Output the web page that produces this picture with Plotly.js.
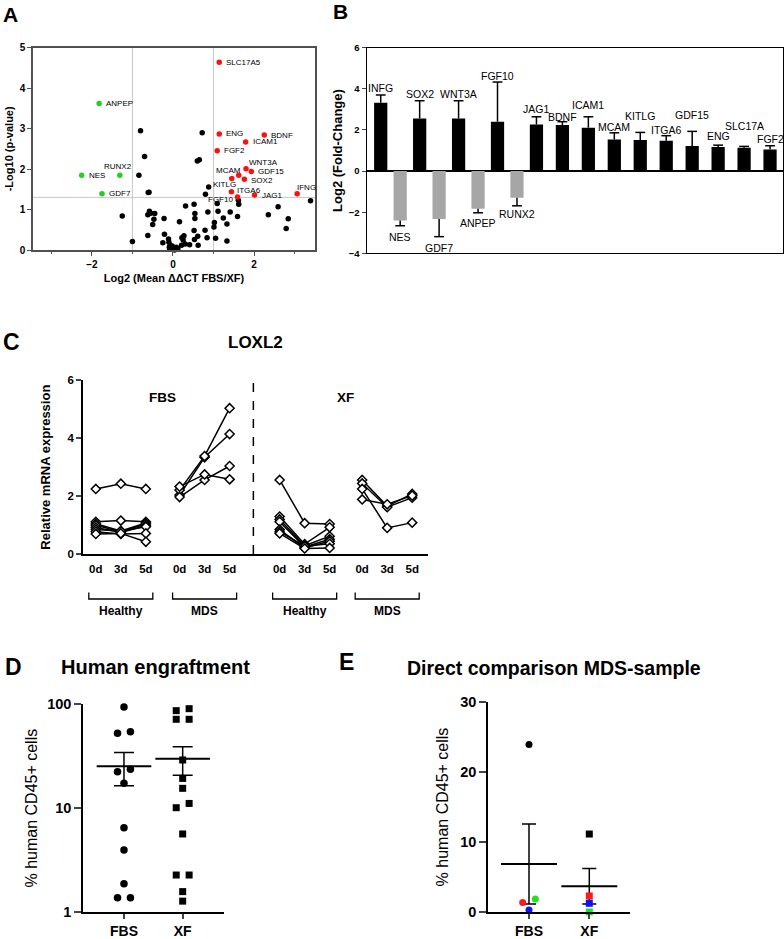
<!DOCTYPE html>
<html><head><meta charset="utf-8">
<script src="https://cdn.plot.ly/plotly-3.0.1.min.js"></script>
<style>html,body{margin:0;padding:0;background:#fff;}#chart{width:784px;height:939px;}</style>
</head><body><div id="chart"></div>
<script>
// ================= DATA =================
// Panel A – volcano plot
const volcanoUpGenes = ['SLC17A5','ENG','BDNF','ICAM1','FGF2','WNT3A','GDF15','MCAM','SOX2','KITLG','ITGA6','FGF10','JAG1','IFNG'];
const volcanoUpX = [1.14,1.14,2.25,1.79,1.09,1.80,1.93,1.62,1.76,1.45,1.44,1.59,2.01,3.06];
const volcanoUpY = [4.64,2.87,2.84,2.67,2.45,2.01,1.94,1.85,1.75,1.77,1.44,1.31,1.36,1.39];
const volcanoDownGenes = ['ANPEP','NES','RUNX2','GDF7'];
const volcanoDownX = [-1.82,-2.25,-1.31,-1.75];
const volcanoDownY = [3.62,1.85,1.85,1.39];
const volcanoOtherX = [-0.80,0.72,-0.70,0.60,0.65,-0.84,-0.59,-0.61,0.88,0.80,1.09,1.61,1.62,3.39,-1.25,-0.58,-0.55,-0.45,-0.62,-0.50,-0.47,-0.22,0.31,0.52,0.54,0.54,0.86,1.11,1.24,1.33,1.41,1.59,1.02,1.01,0.79,0.52,0.16,2.35,2.59,2.84,2.79,-0.62,-1.00,-0.21,-0.25,-0.11,-0.10,-0.07,-0.09,-0.03,0.02,0.08,0.12,-0.08,0.21,0.25,0.27,0.22,0.41,0.62,0.53,0.61,0.84,1.05,1.33,0.30,0.04,-0.02];
const volcanoOtherY = [2.95,2.90,2.31,2.20,2.23,1.85,1.43,1.42,1.56,1.38,1.15,1.23,1.13,1.22,0.84,0.96,0.91,0.90,0.87,0.63,0.76,0.78,1.09,1.13,0.90,0.78,0.94,0.96,0.79,0.64,0.94,0.83,0.68,0.57,0.49,0.48,0.70,0.87,1.07,0.77,0.53,0.36,0.21,0.39,0.18,0.27,0.19,0.12,0.07,0.04,0.02,0.07,0.04,0.03,0.12,0.25,0.35,0.30,0.13,0.12,0.26,0.34,0.30,0.29,0.22,0.15,0.00,0.10];
const pValueCutoff = 1.3;
const foldCutoffs = [-1, 1];

// Panel B – fold change bars
const fcGenes = ['INFG','NES','SOX2','GDF7','WNT3A','ANPEP','FGF10','RUNX2','JAG1','BDNF','ICAM1','MCAM','KITLG','ITGA6','GDF15','ENG','SLC17A','FGF2'];
const fcLog2 = [3.32,-2.41,2.56,-2.33,2.56,-1.83,2.40,-1.30,2.27,2.24,2.11,1.54,1.51,1.47,1.22,1.17,1.13,1.05];
const fcSem  = [0.38,0.25,0.86,0.86,0.86,0.20,1.93,0.39,0.37,0.16,0.53,0.32,0.37,0.25,0.71,0.09,0.07,0.18];

// Panel C – LOXL2 time course (one row per donor: 0d, 3d, 5d)
const timepoints = ['0d','3d','5d'];
const mediumLabels = ['FBS','XF'];
const cohortLabels = ['Healthy','MDS','Healthy','MDS'];
const loxl2FbsHealthy = [[2.25,2.43,2.25],[1.12,1.16,1.12],[1.05,0.80,1.08],[1.00,0.78,1.04],[0.92,0.75,0.98],[0.85,0.80,0.95],[0.78,0.70,0.72],[0.70,0.72,0.43]];
const loxl2FbsMds = [[2.04,3.34,4.14],[2.21,3.38,5.03],[1.97,2.56,3.04],[2.33,2.75,2.58]];
const loxl2XfHealthy = [[2.56,1.07,1.04],[1.30,0.35,0.93],[1.20,0.30,0.62],[1.12,0.25,0.52],[0.85,0.22,0.45],[0.78,0.28,0.36],[0.72,0.20,0.22]];
const loxl2XfMds = [[2.56,1.66,2.08],[2.44,1.62,1.95],[2.25,0.91,1.09],[1.89,1.72,2.02]];

// Panel D – human engraftment (% CD45+)
const engraftGroups = ['FBS','XF'];
const engraftFbs = [93.6,52.3,54.2,22.4,23.6,17.3,6.5,3.97,1.88,1.38,1.38];
const engraftXf  = [86.3,90.2,71.3,71.3,29.0,19.3,15.5,10.1,11.1,5.65,2.28,2.28,1.58,1.28];

// Panel E – direct comparison MDS sample
const mdsSamples = ['MDS-1','MDS-2','MDS-3','MDS-4'];
const mdsFbs = [23.9,1.38,1.90,0.33];
const mdsXf  = [11.15,2.33,0.05,1.28];

// ================= STYLE / LAYOUT HELPERS =================
const FONT = 'Liberation Sans, Arial, Helvetica, sans-serif';
const W = 784, H = 939;
const px = x => x / W;
const py = y => 1 - y / H;
const RED = '#ff1010', GREEN = '#22d022', GREY = '#a6a6a6';
const sampleColors = ['#000000', '#ff1a1a', '#22e022', '#1010ff'];

const mean = a => a.reduce((s, v) => s + v, 0) / a.length;
const sem = a => { const m = mean(a); return Math.sqrt(a.reduce((s, v) => s + (v - m) ** 2, 0) / (a.length - 1)) / Math.sqrt(a.length); };

// side-by-side placement of overlapping points (lower value left)
function pairOffsets(vals, close, d) {
  const idx = vals.map((v, i) => i).sort((a, b) => vals[b] - vals[a]);
  const off = new Array(vals.length).fill(0);
  let k = 0;
  while (k < idx.length) {
    if (k + 1 < idx.length && close(vals[idx[k]], vals[idx[k + 1]])) {
      const a = idx[k], b = idx[k + 1];
      const lo = vals[a] < vals[b] ? a : b, hi = lo === a ? b : a;
      off[lo] = -d; off[hi] = d; k += 2;
    } else k++;
  }
  return off;
}

const traces = [];
const annotations = [];
const shapes = [];

// ---------- Panel A ----------
traces.push({type:'scatter', mode:'markers', x:volcanoOtherX, y:volcanoOtherY, xaxis:'x', yaxis:'y',
  marker:{color:'black', size:5.5}, cliponaxis:false, hoverinfo:'x+y'});
traces.push({type:'scatter', mode:'markers', x:volcanoUpX, y:volcanoUpY, text:volcanoUpGenes, xaxis:'x', yaxis:'y',
  marker:{color:RED, size:5.5}, cliponaxis:false, hoverinfo:'text+x+y'});
traces.push({type:'scatter', mode:'markers', x:volcanoDownX, y:volcanoDownY, text:volcanoDownGenes, xaxis:'x', yaxis:'y',
  marker:{color:GREEN, size:5.5}, cliponaxis:false, hoverinfo:'text+x+y'});
foldCutoffs.forEach(c => shapes.push({type:'line', xref:'x', yref:'y', x0:c, x1:c, y0:0, y1:5, layer:'below', line:{color:'#c8c8c8', width:1}}));
shapes.push({type:'line', xref:'x', yref:'y', x0:-3.45, x1:3.5, y0:pValueCutoff, y1:pValueCutoff, layer:'below', line:{color:'#c8c8c8', width:1}});
// label placement: [xanchor, xshift, yshift]
const volcanoLabelPlace = {
  SLC17A5:['left',5,0], ENG:['left',5,0], BDNF:['left',5,0], ICAM1:['left',5,0], FGF2:['left',5,0],
  WNT3A:['left',1,6], GDF15:['left',5,0], MCAM:['right',4,5], SOX2:['left',5,-1], KITLG:['right',6,-6],
  ITGA6:['left',4,1], FGF10:['right',-3,-2], JAG1:['left',5,-1], IFNG:['left',-2,6],
  ANPEP:['left',5,0], NES:['left',5,0], RUNX2:['center',-2,9], GDF7:['left',5,0]
};
function volcanoLabel(g, x, y) {
  const p = volcanoLabelPlace[g];
  annotations.push({xref:'x', yref:'y', x:x, y:y, text:g, showarrow:false, xanchor:p[0], yanchor:'middle',
    xshift:p[1], yshift:p[2], font:{size:8, color:'black', family:FONT}});
}
volcanoUpGenes.forEach((g, i) => volcanoLabel(g, volcanoUpX[i], volcanoUpY[i]));
volcanoDownGenes.forEach((g, i) => volcanoLabel(g, volcanoDownX[i], volcanoDownY[i]));

// ---------- Panel B ----------
const barPos = [];
fcGenes.forEach((g, i) => barPos.push(i === 0 ? 0 : barPos[i - 1] + (i <= 8 ? 0.75 : 1.0)));
traces.push({type:'bar', x:barPos, y:fcLog2, text:fcGenes, xaxis:'x2', yaxis:'y2', width:0.51,
  marker:{color:fcLog2.map(v => v >= 0 ? 'black' : GREY), line:{width:0}}, textposition:'none', hoverinfo:'text+y'});
const stemX = [], stemY = [], capX = [], capY = [];
fcLog2.forEach((v, i) => {
  const end = v >= 0 ? v + fcSem[i] : v - fcSem[i];
  stemX.push(barPos[i], barPos[i], null); stemY.push(v, end, null);
  capX.push(barPos[i]); capY.push(end);
});
traces.push({type:'scatter', mode:'lines', x:stemX, y:stemY, xaxis:'x2', yaxis:'y2', line:{color:'black', width:1.5}, hoverinfo:'skip', cliponaxis:false});
traces.push({type:'scatter', mode:'markers', x:capX, y:capY, xaxis:'x2', yaxis:'y2', marker:{symbol:'line-ew', size:7, line:{color:'black', width:1.5}}, hoverinfo:'skip', cliponaxis:false});
const fcLabelGap = [7,11,7,11,7,10,6,8,8,5,12,6,16,6,16,9,20,7];
fcGenes.forEach((g, i) => {
  const up = fcLog2[i] >= 0;
  annotations.push({xref:'x2', yref:'y2', x:barPos[i], y:capY[i], text:g, showarrow:false, xanchor:'center', yanchor:'middle',
    yshift:(up ? 1 : -1) * fcLabelGap[i], font:{size:10.5, color:'black', family:FONT}});
});

// ---------- Panel C ----------
const groupStart = [0, 3.35, 7.35, 10.65];
const cGroups = [loxl2FbsHealthy, loxl2FbsMds, loxl2XfHealthy, loxl2XfMds];
const cTickVals = [], cTickText = [];
cGroups.forEach((grp, g) => {
  timepoints.forEach((t, i) => { cTickVals.push(groupStart[g] + i); cTickText.push(t); });
  grp.forEach(row => {
    traces.push({type:'scatter', mode:'lines+markers', x:timepoints.map((t, i) => groupStart[g] + i), y:row,
      xaxis:'x3', yaxis:'y3', line:{color:'black', width:1.5},
      marker:{symbol:'diamond', size:7, color:'white', line:{color:'black', width:1.5}}, cliponaxis:false, hoverinfo:'y'});
  });
  const x0 = groupStart[g] - 0.28, x1 = groupStart[g] + timepoints.length - 1 + 0.28;
  shapes.push({type:'path', xref:'x3', yref:'paper', path:`M${x0},${py(592.5)} L${x0},${py(599)} L${x1},${py(599)} L${x1},${py(592.5)}`,
    line:{color:'black', width:1.3}});
  annotations.push({xref:'x3', yref:'paper', x:(x0 + x1) / 2, y:py(611), text:cohortLabels[g], showarrow:false,
    xanchor:'center', yanchor:'middle', font:{size:12, weight:'bold', color:'black'}});
});
shapes.push({type:'line', xref:'x3', yref:'paper', x0:6.3, x1:6.3, y0:py(554), y1:py(374), line:{color:'black', width:1.5, dash:'dash'}});
mediumLabels.forEach((m, k) => {
  annotations.push({xref:'x3', yref:'paper', x:(groupStart[2 * k] + groupStart[2 * k + 1] + 2) / 2, y:py(397), text:m, showarrow:false,
    xanchor:'center', yanchor:'middle', font:{size:13.5, weight:'bold', color:'black'}});
});

// ---------- Panel D ----------
const dSets = [engraftFbs, engraftXf];
dSets.forEach((vals, g) => {
  traces.push({type:'scatter', mode:'markers', x:[g], y:[mean(vals)], xaxis:'x4', yaxis:'y4',
    marker:{symbol:'line-ew', size:39, line:{color:'black', width:2}},
    error_y:{type:'data', array:[sem(vals)], visible:true, color:'black', thickness:1.5, width:10}, hoverinfo:'y', cliponaxis:false});
});
dSets.forEach((vals, g) => {
  const off = pairOffsets(vals, (a, b) => Math.abs(Math.log10(a) - Math.log10(b)) < 0.06, 0.11);
  traces.push({type:'scatter', mode:'markers', x:vals.map((v, i) => g + off[i]), y:vals, xaxis:'x4', yaxis:'y4',
    marker:{symbol:g === 0 ? 'circle' : 'square', size:g === 0 ? 7.5 : 7, color:'black'}, hoverinfo:'y', cliponaxis:false});
});

// ---------- Panel E ----------
const eSets = [mdsFbs, mdsXf];
eSets.forEach((vals, g) => {
  traces.push({type:'scatter', mode:'markers', x:[g], y:[mean(vals)], xaxis:'x5', yaxis:'y5',
    marker:{symbol:'line-ew', size:40, line:{color:'black', width:2}},
    error_y:{type:'data', array:[sem(vals)], visible:true, color:'black', thickness:1.5, width:7}, hoverinfo:'y', cliponaxis:false});
});
eSets.forEach((vals, g) => {
  const off = pairOffsets(vals, (a, b) => Math.abs(a - b) < 0.8, 0.105);
  traces.push({type:'scatter', mode:'markers', x:vals.map((v, i) => g + off[i]), y:vals, text:mdsSamples, xaxis:'x5', yaxis:'y5',
    marker:{symbol:g === 0 ? 'circle' : 'square', size:7, color:sampleColors}, hoverinfo:'text+y', cliponaxis:false});
});

// ---------- Panel letters & titles ----------
const bold = (s, size, x, y, anchor) => annotations.push({xref:'paper', yref:'paper', x:px(x), y:py(y), text:s, showarrow:false,
  xanchor:anchor || 'left', yanchor:'middle', font:{size:size, weight:'bold', color:'black'}});
bold('A', 21, 1, 15);
bold('B', 21, 331, 12);
bold('C', 23, 1, 342);
bold('LOXL2', 17, 255, 342, 'center');
bold('D', 23, 3, 667);
bold('Human engraftment', 20, 59, 667);
bold('E', 23, 337, 662);
bold('Direct comparison MDS-sample', 19.5, 405, 668);

// ---------- Axes ----------
const tf = (s) => ({size:s, weight:'bold', color:'black', family:FONT});
const layout = {
  width:W, height:H, margin:{l:0, r:0, t:0, b:0}, paper_bgcolor:'white', plot_bgcolor:'rgba(0,0,0,0)',
  showlegend:false, font:{family:FONT, color:'black'}, annotations:annotations, shapes:shapes,
  xaxis:{domain:[px(33), px(315)], range:[-3.45, 3.5], anchor:'y', showline:true, mirror:true, linecolor:'#505050', linewidth:1.5,
    ticks:'outside', tick0:0, dtick:2, ticklen:4, tickwidth:1.2, tickcolor:'#505050', tickfont:tf(10), showgrid:false, zeroline:false,
    minor:{ticks:'outside', dtick:1, ticklen:2.5, tickwidth:1, tickcolor:'#505050'},
    title:{text:'Log2 (Mean ΔΔCT FBS/XF)', font:tf(11), standoff:6}},
  yaxis:{domain:[py(250), py(47.7)], range:[0, 5], anchor:'x', showline:true, mirror:true, linecolor:'#505050', linewidth:1.5,
    ticks:'outside', dtick:1, ticklen:4, tickwidth:1.2, tickcolor:'#505050', tickfont:tf(10), showgrid:false, zeroline:false,
    title:{text:'-Log10 (p-value)', font:tf(11), standoff:4}},
  xaxis2:{domain:[px(366.7), px(782.5)], range:[-0.54, 15.48], anchor:'y2', showline:true, mirror:true, linecolor:'black', linewidth:1.3,
    ticks:'', showticklabels:false, showgrid:false, zeroline:false},
  yaxis2:{domain:[py(253.3), py(47.7)], range:[-4, 6], anchor:'x2', showline:true, mirror:true, linecolor:'black', linewidth:1.3,
    ticks:'outside', dtick:2, ticklen:4, tickwidth:1.2, tickfont:tf(9.5), showgrid:false, zeroline:true, zerolinecolor:'black', zerolinewidth:1.5,
    title:{text:'Log2 (Fold-Change)', font:tf(13), standoff:3}},
  xaxis3:{domain:[px(83.3), px(427.7)], range:[-0.5, 13.27], anchor:'y3', showline:true, linecolor:'black', linewidth:2,
    tickvals:cTickVals, ticktext:cTickText, ticks:'outside', ticklen:3, tickcolor:'rgba(0,0,0,0)', tickfont:tf(11.5), showgrid:false, zeroline:false},
  yaxis3:{domain:[py(554.3), py(380)], range:[0, 6], anchor:'x3', showline:true, linecolor:'black', linewidth:2,
    ticks:'outside', dtick:2, ticklen:5, tickwidth:1.5, tickfont:tf(11.5), showgrid:false, zeroline:false,
    title:{text:'Relative mRNA expression', font:tf(13), standoff:14}},
  xaxis4:{domain:[px(83.3), px(224)], range:[-0.693, 1.704], anchor:'y4', showline:true, linecolor:'black', linewidth:2,
    tickvals:[0, 1], ticktext:engraftGroups, ticks:'outside', ticklen:5, tickwidth:2, tickfont:tf(14), showgrid:false, zeroline:false},
  yaxis4:{domain:[py(912.3), py(704)], type:'log', range:[0, 2], anchor:'x4', showline:true, linecolor:'black', linewidth:2,
    tickvals:[1, 10, 100], ticktext:['1', '10', '100'], ticks:'outside', ticklen:7, tickwidth:2, tickfont:tf(14.5), showgrid:false, zeroline:false,
    title:{text:'% human CD45+ cells', font:{size:16, color:'black', family:FONT}, standoff:6}},
  xaxis5:{domain:[px(488.3), px(630)], range:[-0.675, 1.675], anchor:'y5', showline:true, linecolor:'black', linewidth:2,
    tickvals:[0, 1], ticktext:engraftGroups, ticks:'outside', ticklen:5, tickwidth:2, tickfont:tf(14), showgrid:false, zeroline:false},
  yaxis5:{domain:[py(912.3), py(701.7)], range:[0, 30], anchor:'x5', showline:true, linecolor:'black', linewidth:2,
    ticks:'outside', dtick:10, ticklen:7, tickwidth:2, tickfont:tf(14.5), showgrid:false, zeroline:false,
    title:{text:'% human CD45+ cells', font:{size:16, color:'black', family:FONT}, standoff:8}}
};

Plotly.newPlot('chart', traces, layout, {displayModeBar:false, responsive:false});
</script></body></html>
